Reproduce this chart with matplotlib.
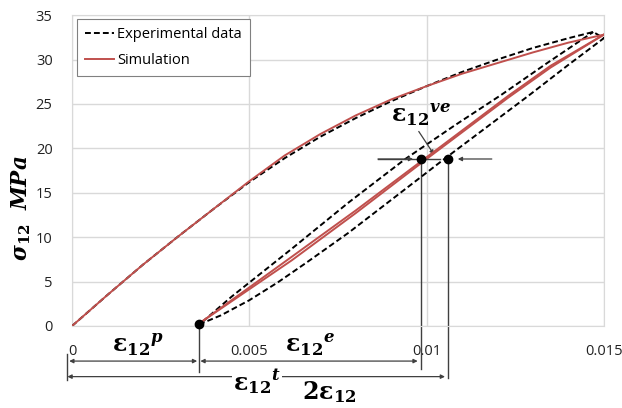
import matplotlib
matplotlib.use("Agg")
import matplotlib.pyplot as plt

plt.rcParams['font.family'] = ['Open Sans', 'DejaVu Sans']
plt.rcParams['mathtext.fontset'] = 'dejavuserif'

# experimental data: monotonic loading, then unloading / reloading loop
exp_load_x = [0, 0.001, 0.002, 0.003, 0.004, 0.005, 0.006, 0.007, 0.008,
              0.009, 0.010, 0.011, 0.012, 0.013, 0.014, 0.0147]
exp_load_y = [0, 3.5, 6.9, 10.1, 13.2, 16.2, 18.9, 21.3, 23.4,
              25.3, 27.0, 28.6, 30.0, 31.3, 32.4, 33.1]
exp_unload_x = [0.0147, 0.0150, 0.0140, 0.0129, 0.0117, 0.0105, 0.0092,
                0.0078, 0.0066, 0.0058, 0.0050, 0.0042, 0.0036]
exp_unload_y = [33.1, 32.4, 29.4, 26.0, 22.4, 18.8, 14.8,
                10.5, 7.1, 4.9, 2.9, 1.2, 0.2]
exp_reload_x = [0.0036, 0.0045, 0.0062, 0.0078, 0.0094, 0.0108, 0.0121,
                0.0134, 0.0147]
exp_reload_y = [0.2, 3.3, 8.7, 13.9, 18.8, 22.6, 26.0, 29.6, 33.1]

# simulation
sim_load_x = [0, 0.001, 0.002, 0.003, 0.004, 0.005, 0.006, 0.007, 0.008,
              0.009, 0.010, 0.011, 0.012, 0.013, 0.014, 0.015]
sim_load_y = [0, 3.5, 6.9, 10.1, 13.2, 16.3, 19.2, 21.6, 23.7,
              25.5, 27.0, 28.4, 29.6, 30.8, 31.9, 32.8]
sim_loop_x = [0.0037, 0.0062, 0.0080, 0.0100, 0.0123, 0.0135, 0.0150]
sim_unload_y = [0.6, 7.8, 13.0, 19.0, 25.9, 29.3, 32.8]
sim_reload_y = [0.6, 7.4, 12.7, 18.8, 25.7, 29.1, 32.8]

x_ticks = [0, 0.005, 0.01, 0.015]
x_tick_labels = ['0', '0.005', '0.01', '0.015']
y_ticks = [0, 5, 10, 15, 20, 25, 30, 35]

# characteristic points on the loop
pt_x = [0.00358, 0.00984, 0.0106]
pt_y = [0.2, 18.8, 18.8]

red = '#C0504D'
grey = '#404040'

fig = plt.figure(figsize=(6.22, 4.08), dpi=100)
ax = fig.add_axes([0.1158, 0.201, 0.855, 0.762])

ax.plot(exp_load_x + exp_unload_x[1:] + exp_reload_x[1:],
        exp_load_y + exp_unload_y[1:] + exp_reload_y[1:],
        color='black', ls=(0, (3, 1.6)), lw=1.4, label='Experimental data', zorder=3)
ax.plot(sim_load_x, sim_load_y, color=red, lw=1.4, label='Simulation', zorder=4)
ax.plot(sim_loop_x[::-1], sim_unload_y[::-1], color=red, lw=1.4, zorder=4)
ax.plot(sim_loop_x, sim_reload_y, color=red, lw=1.4, zorder=4)

ax.plot(pt_x, pt_y, 'o', color='black', ms=6, zorder=6, clip_on=False)

ax.set_xlim(0, 0.015)
ax.set_ylim(0, 35)
ax.set_xticks(x_ticks)
ax.set_xticklabels(x_tick_labels)
ax.set_yticks(y_ticks)
ax.tick_params(length=0, labelsize=10.5, colors='#222222')
ax.tick_params(axis='x', pad=13)
ax.tick_params(axis='y', pad=14)
ax.grid(True, color='#d9d9d9', lw=1)
for s in ax.spines.values():
    s.set_color('#d9d9d9')
ax.set_axisbelow(True)

leg = ax.legend(loc='upper left', bbox_to_anchor=(0.009, 0.987), borderaxespad=0,
                fontsize=10.5, handlelength=2.0, handletextpad=0.2, fancybox=False,
                edgecolor='#808080', framealpha=1, borderpad=0.55, labelspacing=0.75)
leg.get_frame().set_linewidth(0.8)

ax.set_ylabel(r'$\boldsymbol{\sigma}_{\mathbf{12}}\ \ \boldsymbol{MPa}$', fontsize=15.5)
ax.yaxis.set_label_coords(-0.073, 0.38)

# vertical guide lines
ax.plot([pt_x[0], pt_x[0]], [pt_y[0], -5.2], color=grey, lw=1, clip_on=False)
ax.plot([pt_x[1], pt_x[1]], [pt_y[1], -4.8], color=grey, lw=1, clip_on=False)
ax.plot([pt_x[2], pt_x[2]], [pt_y[2], -5.9], color=grey, lw=1, clip_on=False)
ax.plot([-0.00013, -0.00013], [-3.1, -6.1], color=grey, lw=1, clip_on=False)

arr = dict(arrowstyle='<|-|>', color=grey, lw=0.9, mutation_scale=6,
           shrinkA=0, shrinkB=0)
ax.annotate('', xy=(-0.00008, -3.95), xytext=(0.00353, -3.95),
            arrowprops=arr, annotation_clip=False)
ax.annotate('', xy=(0.00362, -3.95), xytext=(0.00975, -3.95),
            arrowprops=arr, annotation_clip=False)
ax.annotate('', xy=(-0.00013, -5.7), xytext=(0.01052, -5.7),
            arrowprops=arr, annotation_clip=False)

one = dict(arrowstyle='-|>', color=grey, lw=0.9, mutation_scale=6,
           shrinkA=0, shrinkB=0)
ax.plot([0.00863, 0.01038], [18.8, 18.8], color=grey, lw=1, zorder=5)
ax.annotate('', xy=(0.00962, 18.8), xytext=(0.00863, 18.8), arrowprops=one)
ax.annotate('', xy=(0.01088, 18.8), xytext=(0.01184, 18.8), arrowprops=one)
ax.annotate('', xy=(0.01021, 19.3), xytext=(0.00978, 21.9), arrowprops=one)

lab = dict(fontsize=17, ha='center', va='center', clip_on=False)
ax.text(0.00185, -2.2, r'$\boldsymbol{\varepsilon}_{\mathbf{12}}{}^{\boldsymbol{p}}$', **lab)
ax.text(0.00672, -2.2, r'$\boldsymbol{\varepsilon}_{\mathbf{12}}{}^{\boldsymbol{e}}$', **lab)
ax.text(0.00522, -6.3, r'$\boldsymbol{\varepsilon}_{\mathbf{12}}{}^{\boldsymbol{t}}$',
        bbox=dict(facecolor='white', edgecolor='none', pad=1), **lab)
ax.text(0.00725, -7.5, r'$\mathbf{2}\boldsymbol{\varepsilon}_{\mathbf{12}}$', **lab)
ax.text(0.00985, 23.7, r'$\boldsymbol{\varepsilon}_{\mathbf{12}}{}^{\boldsymbol{ve}}$', **lab)

fig.savefig('out.png', dpi=100)
